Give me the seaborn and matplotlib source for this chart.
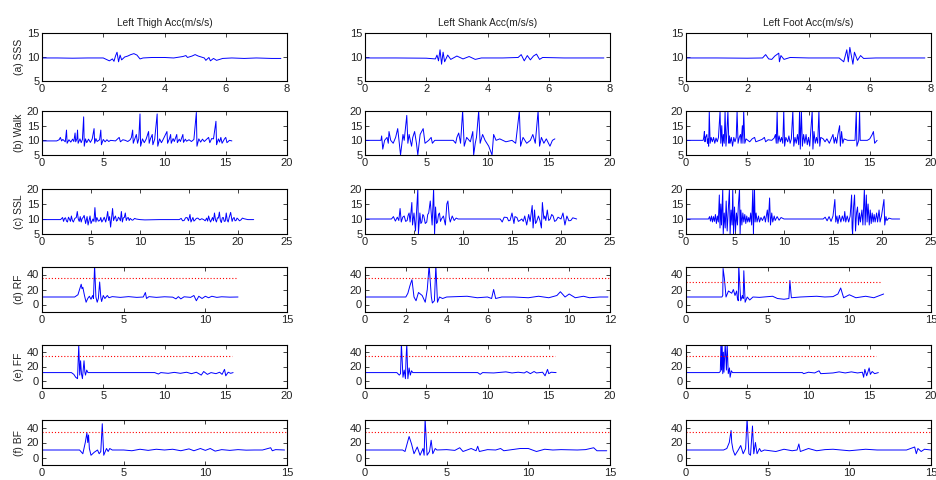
import matplotlib
matplotlib.use("Agg")
import matplotlib.pyplot as plt
import seaborn as sns

sns.set_style("ticks")
plt.rcParams.update({
    "font.family": ["Liberation Sans", "DejaVu Sans"],
    "xtick.direction": "in",
    "ytick.direction": "in",
    "xtick.top": True,
    "ytick.right": True,
    "axes.edgecolor": "black",
    "axes.linewidth": 0.8,
})

# ---- column titles and row labels -------------------------------------
COLUMN_TITLES = ["Left Thigh Acc(m/s/s)", "Left Shank Acc(m/s/s)", "Left Foot Acc(m/s/s)"]
ROW_LABELS = ["(a) SSS", "(b) Walk", "(c) SSL", "(d) RF", "(e) FF", "(f) BF"]

# ---- axis ranges / ticks per row (col-specific where they differ) ------
ROW_YLIM = [(5, 15), (5, 20), (5, 20), (-10, 50), (-10, 50), (-10, 50)]
ROW_YTICKS = [[5, 10, 15], [5, 10, 15, 20], [5, 10, 15, 20], [0, 20, 40], [0, 20, 40], [0, 20, 40]]
XMAX = [
    [8, 8, 8],
    [20, 20, 20],
    [25, 25, 25],
    [15, 12, 15],
    [20, 20, 20],
    [15, 15, 15],
]
XSTEP = [
    [2, 2, 2],
    [5, 5, 5],
    [5, 5, 5],
    [5, 2, 5],
    [5, 5, 5],
    [5, 5, 5],
]

# ---- fall-detection thresholds (level, extent) for rows d-f -------------
THRESH_LEVEL = [
    [None, None, None], [None, None, None], [None, None, None],
    [35, 35, 30],
    [35, 35, 35],
    [34, 34, 34],
]
THRESH_END = [
    [0, 0, 0], [0, 0, 0], [0, 0, 0],
    [12, 12, 12],
    [15.5, 15.5, 15.5],
    [15, 15, 15],
]

# ---- acceleration magnitude traces: (time s, acc m/s^2) ---------------
THIGH_SSS = [(0, 9.8), (0.5, 9.8), (1.0, 9.75), (1.5, 9.8), (2.0, 9.8), (2.1, 9.5), (2.2, 9.2), (2.3, 9.6),
             (2.35, 9.1), (2.4, 10.2), (2.45, 11.0), (2.5, 9.0), (2.55, 10.4), (2.6, 9.4), (2.7, 10.0),
             (2.8, 10.2), (2.9, 10.5), (3.0, 10.7), (3.1, 10.4), (3.2, 9.6), (3.3, 9.8), (3.6, 9.9),
             (4.0, 9.9), (4.3, 9.8), (4.6, 10.1), (4.7, 10.3), (4.75, 9.9), (4.9, 10.2), (5.0, 10.5),
             (5.1, 10.2), (5.3, 9.8), (5.35, 9.3), (5.45, 9.9), (5.5, 9.2), (5.6, 9.7), (5.7, 9.3),
             (5.8, 9.5), (5.9, 9.7), (6.2, 9.8), (6.6, 9.7), (7.0, 9.8), (7.5, 9.7), (7.8, 9.7)]

THIGH_WALK = [(0, 9.8), (1.2, 9.8), (1.4, 10.2), (1.5, 11.0), (1.6, 9.8), (1.7, 10.3), (1.9, 9.5), (2.0, 13.5),
              (2.05, 9.0), (2.2, 10.2), (2.35, 9.4), (2.5, 10.4), (2.6, 9.6), (2.7, 12.5), (2.75, 9.5),
              (2.85, 10.5), (2.9, 13.5), (2.95, 9.0), (3.1, 10.5), (3.2, 9.2), (3.3, 10.3), (3.4, 18.0),
              (3.45, 8.0), (3.55, 10.5), (3.65, 9.2), (3.8, 10.4), (3.95, 9.3), (4.1, 10.5),
              (4.25, 14.0), (4.3, 9.0), (4.4, 10.6), (4.5, 9.6), (4.7, 10.2), (4.8, 13.5), (4.85, 8.5),
              (5.0, 10.3), (5.15, 9.5), (5.3, 10.2), (5.45, 9.6), (5.6, 10.0), (6.0, 9.8), (6.3, 11.0),
              (6.4, 9.5), (6.6, 10.2), (6.8, 10.0), (7.0, 9.6), (7.2, 10.2), (7.3, 11.0), (7.4, 13.5),
              (7.45, 9.0), (7.6, 10.8), (7.7, 12.0), (7.8, 9.0), (7.9, 10.5), (8.0, 19.0), (8.05, 8.0),
              (8.2, 10.5), (8.35, 9.2), (8.5, 10.4), (8.7, 13.0), (8.75, 9.0), (8.85, 10.5), (9.0, 12.0),
              (9.05, 8.5), (9.2, 10.4), (9.4, 19.0), (9.45, 8.0), (9.6, 10.5), (9.75, 9.2), (9.9, 10.4),
              (10.2, 13.0), (10.25, 9.0), (10.4, 10.5), (10.5, 12.0), (10.55, 9.0), (10.7, 10.6),
              (10.8, 9.6), (11.0, 12.0), (11.05, 9.2), (11.2, 10.4), (11.3, 9.6), (11.5, 12.0),
              (11.55, 9.3), (11.7, 10.4), (11.8, 9.7), (12.0, 10.2), (12.2, 9.6), (12.4, 10.3),
              (12.6, 19.5), (12.65, 8.0), (12.8, 10.5), (12.95, 9.4), (13.1, 10.4), (13.25, 9.6),
              (13.4, 10.2), (13.6, 11.0), (13.7, 9.2), (13.85, 10.6), (14.0, 10.5), (14.2, 16.5),
              (14.25, 8.5), (14.4, 10.5), (14.5, 9.4), (14.6, 11.0), (14.7, 9.0), (14.9, 10.5), (15.0, 11.0),
              (15.1, 9.2), (15.3, 10.0), (15.5, 9.8)]

THIGH_SSL = [(0, 9.8), (1.9, 9.8), (2.1, 10.5), (2.2, 9.2), (2.3, 10.2), (2.4, 10.4), (2.5, 9.3), (2.6, 9.0),
             (2.7, 10.6), (2.8, 10.0), (2.9, 9.2), (3.0, 11.0), (3.1, 9.5), (3.2, 9.0), (3.35, 10.2),
             (3.5, 10.5), (3.6, 12.5), (3.7, 10.0), (3.8, 9.2), (3.9, 10.8), (4.0, 9.0), (4.1, 10.2),
             (4.2, 10.5), (4.3, 11.2), (4.45, 8.5), (4.6, 10.8), (4.7, 8.0), (4.9, 11.0), (5.0, 8.5),
             (5.2, 10.0), (5.3, 9.2), (5.4, 13.8), (5.5, 9.0), (5.6, 10.5), (5.75, 9.3), (5.9, 9.5),
             (6.0, 10.5), (6.1, 9.0), (6.2, 9.5), (6.35, 10.6), (6.5, 9.0), (6.6, 10.4), (6.7, 12.5),
             (6.8, 9.5), (6.9, 10.8), (7.0, 7.3), (7.2, 13.5), (7.3, 9.5), (7.4, 10.4), (7.5, 11.0),
             (7.6, 9.3), (7.7, 9.6), (7.8, 10.6), (7.9, 10.2), (8.0, 9.4), (8.1, 12.5), (8.2, 9.0),
             (8.3, 10.4), (8.4, 10.5), (8.5, 12.0), (8.6, 9.5), (8.7, 10.3), (8.8, 10.5), (8.9, 9.5),
             (9.0, 10.2), (9.2, 9.6), (9.3, 9.7), (9.45, 10.2), (9.6, 10.0), (10.0, 9.8), (10.5, 9.7),
             (12.0, 9.8), (14.0, 9.8), (14.2, 10.2), (14.35, 9.4), (14.5, 9.5), (14.65, 10.4),
             (14.8, 10.5), (14.95, 9.4), (15.1, 11.5), (15.2, 9.0), (15.4, 10.5), (15.5, 9.3),
             (15.6, 9.6), (15.75, 10.2), (15.9, 10.3), (16.1, 9.7), (16.3, 10.1), (16.5, 9.8),
             (16.65, 9.4), (16.8, 10.3), (16.9, 9.3), (17.0, 11.0), (17.1, 9.8), (17.2, 9.0), (17.4, 10.5),
             (17.5, 9.4), (17.6, 12.0), (17.7, 9.8), (17.8, 9.0), (17.9, 10.4), (18.0, 10.3), (18.1, 12.3),
             (18.2, 9.5), (18.3, 8.8), (18.4, 10.4), (18.5, 10.5), (18.6, 9.2), (18.7, 9.3), (18.8, 12.0),
             (18.9, 9.6), (19.0, 9.0), (19.1, 10.5), (19.25, 12.2), (19.4, 9.2), (19.5, 10.2), (19.6, 10.5),
             (19.7, 9.4), (19.8, 9.5), (19.9, 10.3), (20.0, 10.0), (20.15, 9.4), (20.3, 9.7),
             (20.45, 10.3), (20.6, 10.1), (21.0, 9.8), (21.6, 9.8)]

THIGH_RF = [(0, 10), (2.0, 10), (2.2, 13), (2.3, 20), (2.4, 27), (2.45, 21), (2.5, 23), (2.6, 12), (2.7, 3),
            (2.8, 8), (2.9, 11), (3.0, 7), (3.1, 12), (3.15, 8), (3.22, 52), (3.3, 10), (3.38, 3), (3.45, 8),
            (3.53, 30), (3.6, 10), (3.65, 4), (3.75, 12), (3.85, 8), (4.0, 12), (4.1, 9), (4.3, 10.5),
            (4.8, 9.5), (5.3, 10.5), (5.8, 9.5), (6.2, 10), (6.33, 16), (6.4, 8), (6.55, 10.5), (7.0, 9.5),
            (7.5, 10.3), (8.0, 9.8), (8.2, 7.5), (8.35, 10.5), (8.5, 7.5), (8.7, 10.3), (9.1, 9.5),
            (9.3, 12), (9.45, 5), (9.6, 11), (9.8, 8), (10.0, 11), (10.2, 9), (10.4, 11), (10.7, 9.5),
            (11.0, 10.3), (11.5, 9.8), (12.0, 10)]

THIGH_FF = [(0, 11.5), (2.4, 11.5), (2.6, 9), (2.75, 5), (2.9, 3), (3.0, 50), (3.08, 8), (3.15, 28),
            (3.22, 10), (3.3, 3), (3.43, 28), (3.5, 12), (3.55, 8), (3.65, 15), (3.75, 11.5), (4.5, 11.5),
            (6, 11.5), (8, 11.5), (9.2, 11.5), (9.5, 9.5), (9.7, 11.5), (10.3, 10.5), (10.8, 11.8),
            (11.3, 10.5), (11.8, 12), (12.2, 10), (12.6, 12), (13.0, 8), (13.2, 13), (13.5, 9),
            (13.8, 11.5), (14.2, 10), (14.5, 12), (14.7, 9), (14.9, 16), (15.0, 7), (15.2, 12),
            (15.4, 10.5), (15.6, 11.5)]

THIGH_BF = [(0, 10), (2.3, 10), (2.5, 5), (2.65, 20), (2.75, 33), (2.8, 20), (2.85, 30), (2.9, 12), (3.0, 3),
            (3.2, 7), (3.4, 10), (3.5, 5), (3.6, 8), (3.69, 45), (3.78, 3), (3.95, 12), (4.05, 8),
            (4.15, 12), (4.3, 10), (5.0, 10), (5.5, 9), (6.0, 11), (6.5, 9.5), (7.0, 11), (7.5, 10),
            (8.0, 11), (8.5, 9), (9.0, 11.5), (9.3, 9), (9.7, 12), (10.0, 9.5), (10.3, 12), (10.6, 8.5),
            (11.0, 10.5), (11.5, 9.5), (12.0, 10.5), (12.5, 9.8), (13.0, 10), (13.5, 10), (14.0, 13),
            (14.1, 9), (14.3, 10.5), (14.85, 10)]

SHANK_SSS = [(0, 9.8), (1.0, 9.8), (2.0, 9.75), (2.3, 9.6), (2.35, 10.4), (2.4, 9.2), (2.45, 11.5),
             (2.5, 8.5), (2.55, 11.0), (2.6, 9.0), (2.7, 10.4), (2.8, 9.5), (3.0, 10.2), (3.2, 9.6),
             (3.4, 10.1), (3.6, 9.5), (3.8, 9.8), (4.5, 9.8), (5.0, 9.9), (5.1, 10.5), (5.2, 9.2),
             (5.3, 10.3), (5.4, 9.4), (5.5, 10.2), (5.6, 10.6), (5.7, 9.5), (5.8, 9.9), (6.5, 9.8),
             (7.8, 9.8)]

SHANK_WALK = [(0, 10), (1.3, 10), (1.36, 11.5), (1.45, 7), (1.6, 10), (1.8, 11), (1.9, 9), (1.96, 13),
              (2.1, 10), (2.3, 9), (2.5, 11), (2.67, 14), (2.8, 9), (2.9, 5), (3.1, 12), (3.2, 10),
              (3.41, 18.5), (3.5, 9), (3.6, 12), (3.8, 8), (3.9, 11), (4.05, 13), (4.2, 9), (4.31, 5),
              (4.5, 12), (4.75, 14), (4.9, 9), (5.2, 10), (5.4, 11), (5.5, 9), (5.7, 10), (6.5, 10),
              (7.2, 10), (7.4, 9), (7.5, 11), (7.65, 12.5), (7.8, 9), (7.97, 20), (8.1, 8), (8.3, 11),
              (8.6, 9.5), (8.8, 13), (8.87, 5), (9.0, 9), (9.1, 11), (9.28, 20), (9.4, 9), (9.6, 12),
              (9.8, 10), (10.1, 8), (10.37, 5), (10.5, 12), (10.7, 10), (11.0, 10.5), (11.5, 9.5),
              (12.0, 10), (12.3, 9), (12.6, 20), (12.7, 8), (12.9, 11), (13.2, 9), (13.5, 10), (13.7, 12),
              (13.9, 9), (14.13, 20), (14.25, 8), (14.4, 11), (14.6, 9), (14.8, 10.5), (15.1, 8),
              (15.3, 10), (15.5, 10.5)]

SHANK_SSL = [(0, 10), (2.7, 10), (2.9, 10.8), (3.1, 9.3), (3.3, 10.6), (3.45, 9.5), (3.58, 13.5), (3.7, 9),
             (3.85, 10.6), (4.0, 11), (4.15, 9.2), (4.3, 9.5), (4.4, 11.2), (4.5, 12), (4.6, 9.0),
             (4.78, 15.5), (4.85, 8), (5.0, 12), (5.15, 6), (5.39, 20), (5.45, 5), (5.6, 12), (5.7, 8.5),
             (5.8, 9), (5.9, 11.5), (6.0, 11), (6.15, 8.5), (6.3, 9), (6.4, 11.5), (6.5, 12), (6.66, 16),
             (6.85, 8), (7.0, 20), (7.1, 5), (7.2, 14), (7.3, 8.5), (7.4, 9), (7.5, 11.5), (7.6, 12),
             (7.7, 9.2), (7.8, 10), (8.0, 11), (8.2, 8), (8.35, 15), (8.46, 16), (8.6, 10.5), (8.7, 9),
             (8.9, 11), (9.1, 9.5), (9.3, 10.3), (9.5, 10), (11.0, 10), (13.8, 10), (14.0, 9),
             (14.2, 10.6), (14.5, 10.5), (14.65, 9.4), (14.8, 9.5), (15.0, 12), (15.2, 8.5), (15.3, 10.8),
             (15.5, 10.5), (15.65, 9.2), (15.8, 9.5), (16.0, 10), (16.15, 9.2), (16.3, 11), (16.5, 8),
             (16.7, 11.5), (16.85, 9.2), (17.06, 14.5), (17.15, 7), (17.3, 13), (17.4, 8.5), (17.5, 9),
             (17.7, 11), (17.85, 9.5), (18.0, 7), (18.1, 15.5), (18.25, 10), (18.35, 11), (18.45, 9.5),
             (18.6, 13), (18.75, 9.5), (18.9, 10), (19.05, 11.5), (19.2, 11), (19.35, 9.2), (19.5, 9.5),
             (19.7, 10.6), (20.0, 10), (20.2, 12), (20.4, 8), (20.6, 11), (20.8, 9.4), (21.0, 9.5),
             (21.2, 10.4), (21.6, 10)]

SHANK_RF = [(0, 10), (2.0, 10), (2.1, 15), (2.2, 25), (2.26, 30), (2.3, 33), (2.4, 10), (2.5, 5), (2.62, 16),
            (2.8, 12), (2.95, 3), (3.05, 20), (3.14, 52), (3.25, 10), (3.3, 2), (3.4, 5), (3.47, 52),
            (3.55, 3), (3.65, 10), (3.8, 8), (4.0, 10), (4.5, 10.5), (5.0, 11), (5.5, 9), (6.0, 10),
            (6.2, 8), (6.3, 20), (6.4, 8), (6.7, 10), (7.3, 10), (8.0, 9), (8.5, 11), (9.0, 9), (9.4, 12),
            (9.57, 17), (9.8, 10), (10.0, 14), (10.3, 9), (10.7, 11), (11.0, 9), (11.5, 10), (11.9, 10)]

SHANK_FF = [(0, 11.5), (2.6, 11.5), (2.8, 8), (2.9, 10), (2.93, 28), (2.97, 52), (3.1, 5), (3.2, 15),
            (3.3, 3), (3.35, 30), (3.41, 52), (3.5, 3), (3.6, 18), (3.7, 8), (3.8, 14), (3.9, 11.5),
            (6.0, 11.5), (9.2, 11.5), (9.4, 9), (9.6, 11.5), (10.5, 11), (11.5, 12.5), (12.0, 11),
            (12.5, 12), (13.0, 11), (13.2, 13), (13.5, 10), (13.8, 13), (14.0, 11), (14.5, 12),
            (14.7, 7), (14.9, 16), (15.0, 10), (15.2, 12), (15.6, 11.5)]

SHANK_BF = [(0, 10), (2.3, 10), (2.45, 8), (2.7, 28), (2.85, 18), (3.0, 5), (3.2, 14), (3.37, 3), (3.55, 12),
            (3.62, 3), (3.68, 52), (3.8, 3), (3.95, 8), (4.05, 23), (4.15, 5), (4.3, 12), (4.4, 10),
            (5.0, 10.5), (5.5, 9.5), (5.8, 13), (6.0, 8), (6.5, 12), (6.8, 9), (6.9, 15), (7.0, 8),
            (7.5, 10.5), (8.0, 10), (8.3, 12), (8.5, 9), (9.0, 10.5), (9.5, 12), (10.0, 12), (10.5, 8),
            (11.0, 11), (11.5, 10), (12.0, 10.5), (13.0, 10), (13.5, 10.5), (14.0, 13), (14.2, 9),
            (14.8, 9)]

FOOT_SSS = [(0, 9.8), (1.0, 9.8), (2.0, 9.75), (2.5, 9.8), (2.6, 10.5), (2.7, 9.6), (2.8, 9.5), (2.9, 10.2),
            (3.03, 10.8), (3.05, 9.0), (3.1, 10.3), (3.2, 9.5), (3.4, 9.9), (4.0, 9.8), (5.0, 9.8),
            (5.15, 9.0), (5.25, 11.5), (5.3, 9.0), (5.35, 12.0), (5.45, 8.5), (5.5, 11.0), (5.6, 9.3),
            (5.7, 10.3), (5.8, 9.7), (6.2, 9.8), (7.0, 9.8), (7.8, 9.8)]

FOOT_WALK = [(0, 10), (1.4, 10), (1.45, 11), (1.5, 13), (1.55, 9.5), (1.6, 11), (1.7, 12), (1.75, 9),
             (1.8, 10.5), (1.85, 8), (1.9, 20), (1.97, 9), (2.05, 11), (2.15, 9.5), (2.25, 11), (2.35, 9),
             (2.45, 10.8), (2.55, 9.5), (2.65, 11), (2.78, 20), (2.84, 9), (2.92, 15), (2.98, 8),
             (3.05, 12), (3.12, 9), (3.19, 20), (3.26, 8), (3.33, 12), (3.42, 20), (3.5, 9), (3.55, 11.5),
             (3.6, 9), (3.7, 11), (3.8, 8), (3.9, 11), (4.0, 9.5), (4.1, 11), (4.17, 20), (4.25, 9),
             (4.35, 11), (4.45, 12), (4.5, 9), (4.6, 15), (4.65, 9), (4.71, 20), (4.8, 9), (4.9, 10.5),
             (5.05, 10), (5.2, 9.5), (5.4, 10.5), (5.6, 11), (5.7, 9.5), (6.0, 10), (6.2, 10.3),
             (6.4, 11), (6.5, 9.5), (6.7, 10.2), (7.0, 10), (7.2, 10.8), (7.3, 12), (7.37, 9), (7.44, 20),
             (7.5, 9), (7.6, 11.5), (7.7, 9.5), (7.8, 11), (7.9, 9), (7.98, 20), (8.05, 8), (8.15, 11),
             (8.3, 9.5), (8.4, 11.5), (8.5, 9), (8.6, 10.5), (8.72, 20), (8.8, 8), (8.9, 11), (9.0, 9),
             (9.1, 12), (9.2, 8.5), (9.27, 20), (9.33, 7), (9.42, 20), (9.5, 8), (9.6, 12), (9.7, 9),
             (9.8, 12), (9.9, 8.5), (10.0, 11), (10.1, 8), (10.3, 20), (10.36, 7), (10.45, 13),
             (10.55, 9), (10.65, 11), (10.75, 9), (10.85, 20), (10.92, 8), (11.0, 11), (11.2, 10.5),
             (11.35, 9.5), (11.5, 10.5), (11.7, 9), (11.9, 11), (12.0, 12), (12.1, 9), (12.2, 11),
             (12.3, 9), (12.4, 12), (12.54, 15), (12.6, 8), (12.7, 13), (12.8, 9), (12.9, 10.5),
             (13.2, 10), (13.8, 10), (13.9, 20), (13.95, 8), (14.1, 10), (14.17, 20), (14.22, 10),
             (14.4, 10), (14.8, 10), (15.0, 10.5), (15.2, 12), (15.3, 13), (15.4, 9), (15.6, 10)]

FOOT_SSL = [(0, 10), (2.3, 10), (2.4, 10.8), (2.5, 9.3), (2.6, 11), (2.7, 9), (2.8, 10.8), (2.9, 9.2),
            (3.0, 11.5), (3.1, 8.5), (3.2, 11), (3.3, 9), (3.4, 18), (3.47, 7), (3.55, 15), (3.62, 8),
            (3.75, 20), (3.8, 5), (3.9, 12), (4.0, 7), (4.1, 16), (4.2, 6), (4.3, 12), (4.43, 20),
            (4.5, 5), (4.6, 13), (4.7, 8), (4.77, 20), (4.85, 5), (4.95, 14), (5.05, 6), (5.15, 12),
            (5.25, 8), (5.35, 15), (5.46, 20), (5.52, 5), (5.6, 13), (5.7, 8), (5.8, 12), (5.9, 9),
            (6.0, 11.5), (6.1, 8.5), (6.2, 11), (6.3, 9), (6.4, 10.5), (6.5, 9), (6.6, 12), (6.7, 8),
            (6.82, 20), (6.88, 5), (6.99, 20), (7.05, 9), (7.15, 12), (7.25, 9), (7.4, 11), (7.5, 9),
            (7.65, 10.5), (7.8, 9.5), (8.0, 11), (8.1, 9), (8.3, 13), (8.4, 9), (8.53, 17), (8.62, 8),
            (8.75, 12), (8.85, 9), (9.0, 11), (9.1, 9.5), (9.3, 10.8), (9.5, 9.6), (9.7, 10.5),
            (10.0, 10), (12.0, 10), (14.0, 10), (14.2, 10.6), (14.4, 9.4), (14.6, 10.8), (14.8, 9.2),
            (15.0, 11), (15.19, 16.5), (15.28, 9), (15.4, 11), (15.5, 8.5), (15.65, 11.2), (15.8, 9),
            (15.95, 11), (16.1, 9.3), (16.2, 12.5), (16.3, 9), (16.45, 11), (16.6, 9), (16.75, 11),
            (16.9, 18), (16.95, 7), (17.0, 5), (17.1, 14), (17.2, 18), (17.3, 6), (17.4, 12), (17.5, 14),
            (17.6, 8), (17.7, 12), (17.8, 9), (17.95, 13), (18.05, 8), (18.2, 20), (18.28, 8),
            (18.4, 18), (18.48, 9), (18.58, 15), (18.7, 8), (18.8, 13), (18.9, 8.5), (19.0, 12),
            (19.1, 9), (19.2, 11.5), (19.3, 9), (19.45, 12), (19.55, 9), (19.7, 13), (19.8, 9),
            (19.95, 11), (20.2, 16.5), (20.28, 8), (20.4, 10.8), (20.5, 9.5), (20.7, 10.3), (21.0, 10),
            (21.8, 10)]

FOOT_RF = [(0, 10), (2.2, 10), (2.25, 12), (2.27, 48), (2.35, 35), (2.45, 10), (2.6, 18), (2.8, 15),
           (2.9, 20), (3.0, 12), (3.1, 18), (3.15, 8), (3.2, 5), (3.23, 52), (3.35, 5), (3.45, 12),
           (3.5, 8), (3.54, 45), (3.62, 3), (3.75, 10), (3.9, 6), (4.1, 10), (4.5, 9.5), (5.3, 11),
           (5.6, 8), (6.0, 7), (6.3, 8), (6.36, 32), (6.45, 9), (7.0, 10), (8.0, 11), (8.5, 10),
           (9.0, 10.5), (9.3, 14), (9.47, 22), (9.65, 9), (10.0, 13), (10.4, 9), (11.0, 11), (11.5, 9),
           (12.1, 14)]

FOOT_FF = [(0, 11.5), (2.7, 11.5), (2.8, 13), (2.85, 52), (2.9, 15), (2.95, 52), (3.0, 10), (3.05, 40),
           (3.1, 12), (3.2, 52), (3.3, 15), (3.36, 52), (3.45, 10), (3.55, 18), (3.6, 5), (3.7, 14),
           (3.8, 11.5), (6.0, 11.5), (9.5, 11.5), (9.6, 10), (10.0, 12), (10.5, 11), (10.86, 14),
           (11.0, 10), (12.0, 11), (12.5, 12.5), (13.0, 11), (13.5, 12.5), (14.0, 11), (14.4, 12),
           (14.5, 5), (14.6, 16), (14.75, 7), (14.95, 18), (15.05, 9), (15.2, 13), (15.4, 10),
           (15.7, 11.5)]

FOOT_BF = [(0, 10), (2.3, 10), (2.5, 12), (2.65, 20), (2.76, 36), (2.8, 20), (2.88, 10), (3.0, 3),
           (3.2, 10), (3.35, 16), (3.5, 5), (3.65, 12), (3.74, 52), (3.85, 5), (3.95, 3), (4.07, 42),
           (4.15, 5), (4.25, 20), (4.35, 5), (4.5, 12), (4.6, 8), (4.8, 10), (5.5, 8), (6.0, 11),
           (6.5, 9), (6.8, 10), (6.91, 18), (7.0, 8), (7.5, 12), (8.0, 9), (8.5, 10.5), (9.0, 11),
           (10.0, 9), (11.0, 11), (11.7, 10), (13.5, 10), (14.0, 14), (14.1, 5), (14.2, 12), (14.4, 8),
           (14.6, 11), (15.0, 10)]

TRACES = [
    [THIGH_SSS, SHANK_SSS, FOOT_SSS],
    [THIGH_WALK, SHANK_WALK, FOOT_WALK],
    [THIGH_SSL, SHANK_SSL, FOOT_SSL],
    [THIGH_RF, SHANK_RF, FOOT_RF],
    [THIGH_FF, SHANK_FF, FOOT_FF],
    [THIGH_BF, SHANK_BF, FOOT_BF],
]

# ---- layout (pixel boxes on a 936 x 480 canvas) -------------------------
W, H = 936, 480
COL_LEFT = [42, 365, 686]
COL_WIDTH = 245
ROW_BOX = [(33, 81), (111, 155), (189, 234), (267, 312), (345, 388), (420, 465)]

fig = plt.figure(figsize=(W / 100, H / 100), dpi=100)
fig.patch.set_facecolor("white")

for r in range(6):
    top, bottom = ROW_BOX[r]
    for c in range(3):
        ax = fig.add_axes([COL_LEFT[c] / W, 1 - bottom / H, COL_WIDTH / W, (bottom - top) / H])
        t = [p[0] for p in TRACES[r][c]]
        v = [p[1] for p in TRACES[r][c]]
        sns.lineplot(x=t, y=v, ax=ax, color="#0000ff", linewidth=0.7,
                     estimator=None, sort=False)
        level = THRESH_LEVEL[r][c]
        if level is not None:
            sns.lineplot(x=[0, THRESH_END[r][c]], y=[level, level], ax=ax,
                         color="#ff0000", linewidth=0.8, linestyle=(0, (1, 1.8)),
                         estimator=None, sort=False)
        xmax = XMAX[r][c]
        ax.set_xlim(0, xmax)
        ax.set_ylim(*ROW_YLIM[r])
        ax.set_xticks(list(range(0, xmax + 1, XSTEP[r][c])))
        ax.set_yticks(ROW_YTICKS[r])
        ax.tick_params(axis="both", which="both", direction="in", length=3, width=0.6,
                       labelsize=8, pad=2, colors="#222222", top=True, right=True)
        ax.set_xlabel("")
        ax.set_ylabel(ROW_LABELS[r] if c == 0 else "", fontsize=7.5, labelpad=2, color="#222222")
        for s in ax.spines.values():
            s.set_linewidth(0.8)
            s.set_color("black")
        if r == 0:
            ax.set_title(COLUMN_TITLES[c], fontsize=7.3, pad=5, color="#222222")

fig.savefig("out.png", dpi=100, facecolor="white")
